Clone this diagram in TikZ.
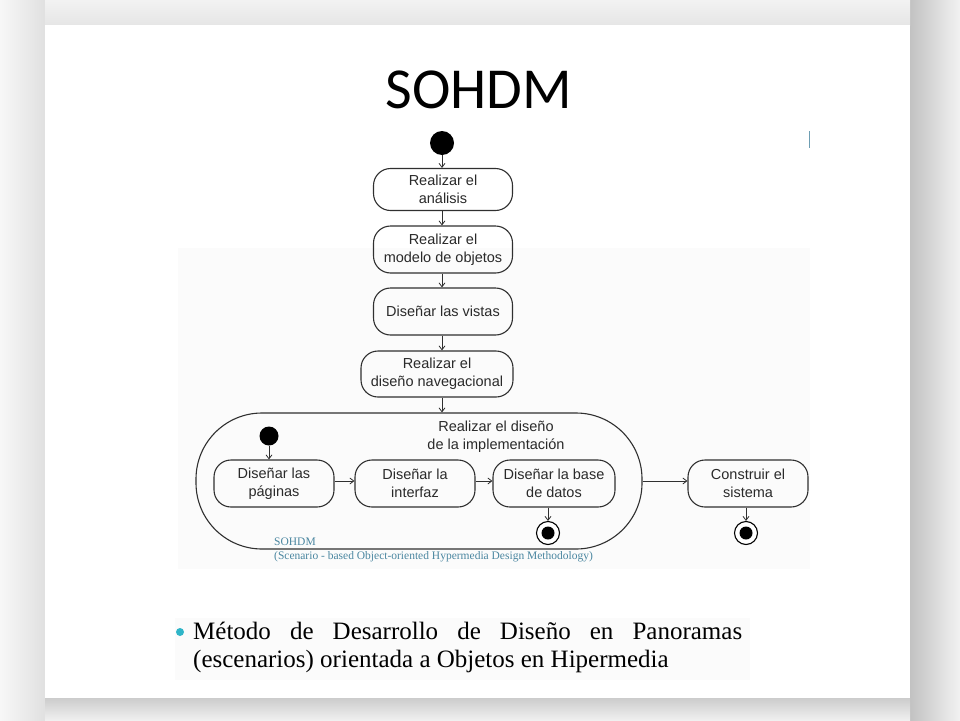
\documentclass[tikz,border=0pt]{standalone}
\usepackage{fontspec}
\setmainfont{Liberation Serif}
\newfontfamily\diagfont{Liberation Sans}
\newfontfamily\titlefont{Carlito}
\usetikzlibrary{arrows.meta}
\definecolor{ln}{HTML}{303030}
\definecolor{txt}{HTML}{2A2A2A}
\definecolor{teal}{HTML}{4A86A0}
\definecolor{bul}{HTML}{2FB5C8}
\begin{document}
\begin{tikzpicture}[x=1pt,y=-1pt,
  act/.style={draw=ln, line width=1.1pt, rounded corners=17pt, minimum width=139pt,
    minimum height=42pt, inner sep=0pt, align=center,
    font=\diagfont\fontsize{14.5}{18}\selectfont, text=txt},
  inact/.style={act, minimum width=120pt, minimum height=47pt},
  flow/.style={draw=ln, line width=0.8pt, -{Straight Barb[length=4pt,width=6pt]}},
  startdot/.style={circle, fill=black, inner sep=0pt, minimum size=#1},
  endring/.style={circle, draw=black, line width=1.1pt, fill=white, inner sep=0pt, minimum size=23pt},
  enddot/.style={circle, fill=black, inner sep=0pt, minimum size=13pt}]
\useasboundingbox (0,0) rectangle (960,720);
% slide background and soft shadow
\fill[white] (0,0) rectangle (960,720);
\shade[left color=black!3, right color=black!12] (0,0) rectangle (45,720);
\shade[left color=black!24, right color=black!5] (910,0) rectangle (960,720);
\shade[top color=black!5, bottom color=black!10] (45,0) rectangle (910,25);
\shade[top color=black!20, bottom color=black!6] (45,698) rectangle (910,720);
\fill[white] (45,25) rectangle (910,698);
% faint picture backgrounds
\fill[black!1.5] (178,248) rectangle (810,569);
\fill[black!1.5] (175,618) rectangle (750,680);
\draw[teal!80, line width=1pt] (809,131) -- (809,148);
% title
\node[font=\titlefont\fontsize{58}{60}\selectfont, text=black] (title) at (479,90) {SOHDM};
% main flow
\node[startdot=24pt] (start) at (442,143) {};
\node[act] (n1) at (443,189.5) {Realizar el\\análisis};
\node[act, minimum height=47pt] (n2) at (443,249.5) {Realizar el\\modelo de objetos};
\node[act, minimum height=47pt] (n3) at (443,311.5) {Diseñar las vistas};
\node[act, minimum width=152pt, minimum height=46pt] (n4) at (437,374) {Realizar el\\diseño navegacional};
% container
\node[draw=ln, line width=1.1pt, rounded corners=66pt, minimum width=446pt,
  minimum height=136pt, inner sep=0pt] (cont) at (419,481) {};
\node[font=\diagfont\fontsize{14.5}{18}\selectfont, text=txt, align=center] (contlabel) at (496,437)
  {Realizar el diseño\\de la implementación};
\node[startdot=19pt] (istart) at (269,436) {};
\node[inact] (pag) at (274,483.5) {Diseñar las\\páginas};
\node[inact] (int) at (415,483.5) {Diseñar la\\interfaz};
\node[inact, minimum width=122pt] (base) at (554,483.5) {Diseñar la base\\de datos};
\node[endring] (end1) at (548,533) {};
\node[enddot] at (end1) {};
\node[inact] (cons) at (748,483.5) {Construir el\\sistema};
\node[endring] (end2) at (746,533) {};
\node[enddot] at (end2) {};
% connectors
\draw[flow] (start) -- (start |- n1.north);
\draw[flow] (start |- n1.south) -- (start |- n2.north);
\draw[flow] (start |- n2.south) -- (start |- n3.north);
\draw[flow] (start |- n3.south) -- (start |- n4.north);
\draw[flow] (start |- n4.south) -- (start |- cont.north);
\draw[flow] (istart) -- (istart |- pag.north);
\draw[flow] (pag.east |- cont.east) -- (int.west |- cont.east);
\draw[flow] (int.east |- cont.east) -- (base.west |- cont.east);
\draw[flow] (end1 |- base.south) -- (end1.north);
\draw[flow] (cont.east) -- (cons.west |- cont.east);
\draw[flow] (end2 |- cons.south) -- (end2.north);
% caption
\node[font=\fontsize{11.5}{14}\selectfont, text=teal, align=left, anchor=north west, inner sep=0pt]
  (cap) at (274,538) {SOHDM\\(Scenario - based Object-oriented Hypermedia Design Methodology)};
% bullet text
\fill[bul] (180,632) circle (4pt);
\node[font=\fontsize{25}{28}\selectfont, text=black, align=left, anchor=north west, inner sep=0pt]
  (bullet) at (193,622) {\makebox[549pt][s]{Método de Desarrollo de Diseño en Panoramas}\\(escenarios) orientada a Objetos en Hipermedia};
\end{tikzpicture}
\end{document}
